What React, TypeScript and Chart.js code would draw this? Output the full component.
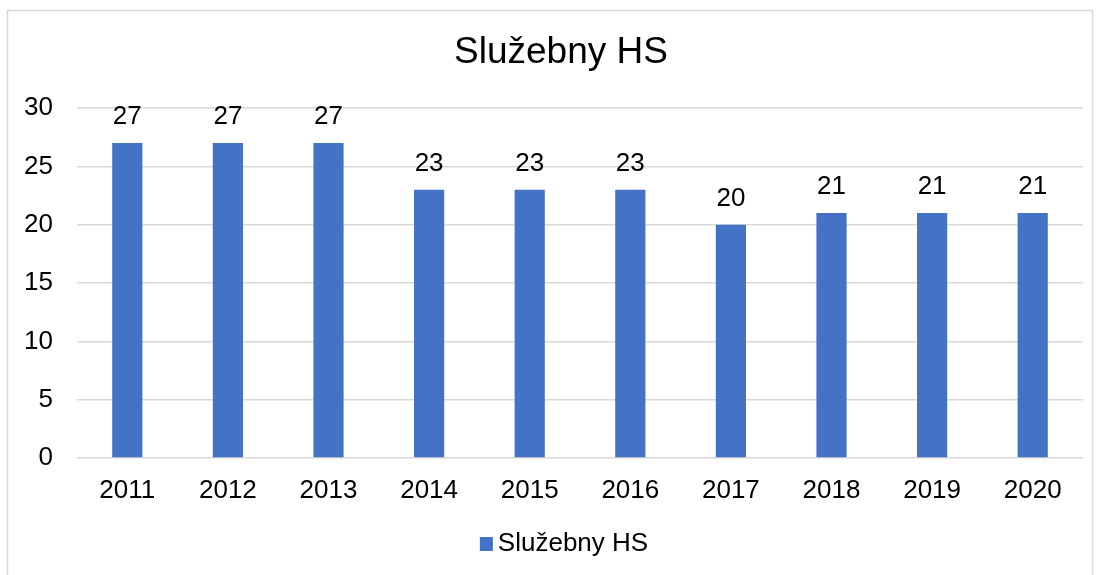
import React, { useEffect, useRef } from "react";
import { Chart, registerables } from "chart.js";

Chart.register(...registerables);

const TITLE = "Služebny HS";
const SERIES_LABEL = "Služebny HS";
const YEARS = ["2011", "2012", "2013", "2014", "2015", "2016", "2017", "2018", "2019", "2020"];
const VALUES = [27, 27, 27, 23, 23, 23, 20, 21, 21, 21];
const BAR_COLOR = "#4472C4";
const GRID_COLOR = "#D9D9D9";
const FONT = "'Liberation Sans', Arial, sans-serif";

const decorPlugin = {
  id: "decor",
  beforeDraw(chart: any) {
    const ctx = chart.ctx;
    ctx.save();
    ctx.fillStyle = "#ffffff";
    ctx.fillRect(0, 0, chart.width, chart.height);
    ctx.strokeStyle = GRID_COLOR;
    ctx.lineWidth = 1.5;
    ctx.strokeRect(7.5, 10.5, 1085, 600);
    ctx.restore();
  },
  afterDraw(chart: any) {
    const ctx = chart.ctx;
    ctx.save();
    // title
    ctx.fillStyle = "#000000";
    ctx.font = `37px ${FONT}`;
    ctx.textAlign = "center";
    ctx.textBaseline = "middle";
    ctx.fillText(TITLE, 561, 53);
    // data labels
    ctx.font = `26px ${FONT}`;
    const meta = chart.getDatasetMeta(0);
    const data = chart.data.datasets[0].data;
    meta.data.forEach((bar: any, i: number) => {
      ctx.fillText(String(data[i]), bar.x, bar.y - 26);
    });
    // legend
    const label = chart.data.datasets[0].label;
    ctx.font = `26px ${FONT}`;
    const tw = ctx.measureText(label).width;
    const box = 13;
    const gap = 5;
    const total = box + gap + tw;
    const cx = 564;
    const x0 = cx - total / 2;
    ctx.fillStyle = BAR_COLOR;
    ctx.fillRect(x0, 537, box, box + 1);
    ctx.fillStyle = "#000000";
    ctx.textAlign = "left";
    ctx.fillText(label, x0 + box + gap, 544);
    ctx.restore();
  },
};

export default function App() {
  const ref = useRef<HTMLCanvasElement | null>(null);
  useEffect(() => {
    if (!ref.current) return;
    const chart = new Chart(ref.current, {
      type: "bar",
      data: {
        labels: YEARS,
        datasets: [
          {
            label: SERIES_LABEL,
            data: VALUES,
            backgroundColor: BAR_COLOR,
            barPercentage: 0.6,
            categoryPercentage: 0.5,
          },
        ],
      },
      options: {
        responsive: false,
        animation: false,
        layout: { padding: { left: 20, right: 17, top: 108, bottom: 57 } },
        plugins: {
          legend: { display: false },
          title: { display: false },
          tooltip: { enabled: false },
        },
        scales: {
          x: {
            grid: { display: false, drawTicks: false },
            border: { display: false },
            ticks: { color: "#000", font: { family: FONT, size: 26 }, padding: 17 },
            afterFit: (s: any) => {
              s.height = 60;
            },
          },
          y: {
            min: 0,
            max: 30,
            grid: { color: GRID_COLOR, lineWidth: 1.5, drawTicks: false },
            border: { display: false },
            ticks: { stepSize: 5, color: "#000", font: { family: FONT, size: 26 }, padding: 24 },
            afterFit: (s: any) => {
              s.width = 57;
            },
          },
        },
      },
      plugins: [decorPlugin],
    });
    return () => chart.destroy();
  }, []);
  return (
    <div style={{ position: "absolute", left: 0, top: 0, width: 1100, height: 575, overflow: "hidden" }}>
      <canvas ref={ref} width={1100} height={575} style={{ display: "block" }} />
    </div>
  );
}
